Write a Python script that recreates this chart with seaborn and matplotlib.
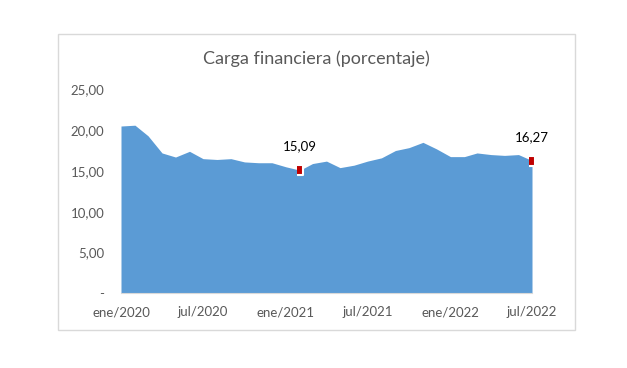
import pandas as pd
import matplotlib.pyplot as plt
import seaborn as sns
from matplotlib.patches import Rectangle

# =========================================================
# Datos
# =========================================================
months = pd.date_range('2020-01-01', periods=31, freq='MS')
carga = [20.5, 20.6, 19.3, 17.2, 16.7, 17.4, 16.5, 16.4, 16.5, 16.1,
         16.0, 16.0, 15.5, 15.09, 15.9, 16.2, 15.4, 15.7, 16.2, 16.6,
         17.5, 17.85, 18.5, 17.7, 16.75, 16.75, 17.2, 17.0, 16.9, 17.0,
         16.27]
tick_labels = ['ene/2020', 'jul/2020', 'ene/2021', 'jul/2021', 'ene/2022', 'jul/2022']
y_ticks = [0, 5, 10, 15, 20, 25]
y_labels = ['-', '5,00', '10,00', '15,00', '20,00', '25,00']
highlight = [13, 30]   # puntos con etiqueta

df = pd.DataFrame({'mes': months, 'carga': carga})

sns.set_style('white')
plt.rcParams['font.family'] = ['Lato', 'DejaVu Sans']

fig = plt.figure(figsize=(6.27, 3.68), dpi=100)
ax = fig.add_axes([121 / 627, 1 - 293.3 / 368, (532 - 121) / 627, (293.3 - 89.3) / 368])

# área
sns.lineplot(data=df, x='mes', y='carga', ax=ax, color='#5B9BD5', linewidth=0)
ax.fill_between(df['mes'], df['carga'], 0, color='#5B9BD5', linewidth=0)

# marcadores rojos con etiqueta
pts = df.iloc[highlight]
rect_marker = [(-0.32, -0.5), (0.32, -0.5), (0.32, 0.5), (-0.32, 0.5)]
ax.plot(pts['mes'], pts['carga'], linestyle='none', marker=rect_marker,
        markersize=7.5, markerfacecolor='#C00000', markeredgecolor='white',
        markeredgewidth=1.5, zorder=5, clip_on=False)
for _, r in pts.iterrows():
    ax.annotate(f"{r['carga']:.2f}".replace('.', ','), (r['mes'], r['carga']),
                xytext=(0, 17), textcoords='offset points', ha='center', va='center',
                fontsize=9.5, color='black')

ax.set_xlim(months[0], months[-1])
ax.set_ylim(0, 25)
ax.set_xticks(months[::6])
ax.set_xticklabels(tick_labels)
ax.set_yticks(y_ticks)
ax.set_yticklabels(y_labels)
ax.set_xlabel('')
ax.set_ylabel('')

ax.tick_params(axis='y', length=0, pad=12, labelsize=9.5, labelcolor='#595959')
ax.tick_params(axis='x', length=3.5, width=0.8, color='#d9d9d9', pad=6,
               labelsize=9.5, labelcolor='#595959')
for s in ['top', 'right', 'left']:
    ax.spines[s].set_visible(False)
ax.spines['bottom'].set_color('#d9d9d9')
ax.spines['bottom'].set_linewidth(0.8)

# título y marco del gráfico
fig.text(316 / 627, 1 - 58.3 / 368, 'Carga financiera (porcentaje)', ha='center',
         va='center', fontsize=13, color='#595959')
fig.patches.append(Rectangle((58 / 627, 1 - 330 / 368), (575 - 58) / 627, (330 - 34.3) / 368,
                             transform=fig.transFigure, fill=False,
                             edgecolor='#d9d9d9', linewidth=1))

fig.savefig('out.png', dpi=100)
plt.close()
